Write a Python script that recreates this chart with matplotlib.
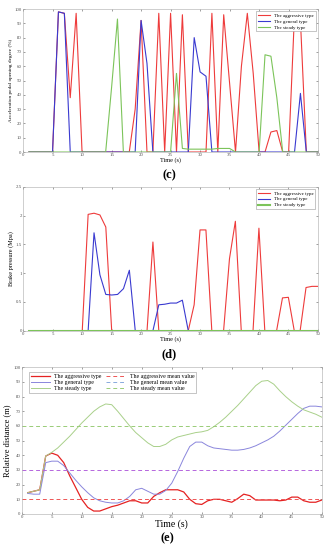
import numpy as np
import matplotlib
matplotlib.use('Agg')
import matplotlib.pyplot as plt

plt.rcParams['font.family'] = ['Liberation Serif', 'DejaVu Serif']

t = np.arange(1, 51)

# (c) accelerator pedal opening degree (%)
acc_aggr = [0, 0, 0, 0, 0, 98, 97, 38, 97, 0,
            0, 0, 0, 0, 0, 0, 0, 0, 30, 92,
            0, 0, 97, 0, 97, 0, 96, 0, 0, 0,
            0, 97, 0, 96, 48, 0, 60, 97, 55, 0,
            0, 14, 15, 0, 0, 97, 92, 0, 0, 0]
acc_gen = [0, 0, 0, 0, 0, 98, 97, 0, 0, 0,
           0, 0, 0, 0, 0, 0, 0, 0, 0, 92,
           62, 0, 0, 0, 0, 0, 0, 0, 80, 56,
           53, 0, 0, 0, 0, 0, 0, 0, 0, 0,
           0, 0, 0, 0, 0, 0, 41, 0, 0, 0]
acc_steady = [0, 0, 0, 0, 0, 0, 0, 0, 0, 0,
              0, 0, 0, 0, 45, 93, 0, 0, 0, 0,
              0, 0, 0, 0, 0, 55, 2.5, 2, 2, 2,
              2, 2, 2.5, 2.5, 2.5, 0, 0, 0, 0, 0,
              68, 67, 38, 0, 0, 0, 0, 0, 0, 0]

# (d) brake pressure (MPa)
brk_aggr = [0, 0, 0, 0, 0, 0, 0, 0, 0, 0,
            2.02, 2.04, 2.01, 1.8, 0, 0, 0, 0, 0, 0,
            0, 1.54, 0, 0, 0, 0, 0, 0, 0.45, 1.75,
            1.75, 0, 0, 0, 1.25, 1.9, 0, 0, 0, 1.78,
            0, 0, 0, 0.57, 0.58, 0, 0, 0.75, 0.77, 0.77]
brk_gen = [0, 0, 0, 0, 0, 0, 0, 0, 0, 0,
           0, 1.7, 0.97, 0.63, 0.62, 0.63, 0.73, 1.05, 0, 0,
           0, 0, 0.45, 0.46, 0.48, 0.48, 0.53, 0, 0, 0,
           0, 0, 0, 0, 0, 0, 0, 0, 0, 0,
           0, 0, 0, 0, 0, 0, 0, 0, 0, 0]
brk_steady = [0] * 50

# (e) relative distance (m)
dist_aggr = [14.5, 15.5, 16.5, 39.5, 41.5, 40, 35, 26, 18, 10,
             4.5, 2, 2, 3.5, 5, 6, 7.5, 9, 9, 7.5,
             7.5, 12, 14.5, 16.5, 16.5, 16.5, 15, 10, 7, 6.5,
             9, 10, 10, 9, 8, 10.5, 13.5, 12.5, 9.5, 9.5,
             9.5, 9.5, 9, 9.5, 11.5, 11.5, 9, 8, 8, 9.5]
dist_gen = [14, 13.5, 13.5, 35, 36, 36, 33, 28, 23, 18.5,
            14.5, 11, 9, 8, 7.5, 7.5, 9, 12, 16.5, 17.5,
            15.5, 13.5, 13.5, 16, 21, 29, 38, 46, 49, 49,
            46.5, 45, 44.5, 44, 43.5, 43.5, 44, 45, 46.5, 48.5,
            50.5, 53, 56.5, 60.5, 64.5, 68.5, 72, 73.5, 73.5, 73]
dist_steady = [14.5, 15.5, 16.5, 39.5, 42, 45, 49, 53, 57.5, 62,
               66, 70, 73, 75, 74.5, 70, 65, 60, 55.5, 52,
               48.5, 46, 46, 47.5, 50.5, 52.5, 53.5, 54.5, 55.5, 56,
               57, 59.5, 62.5, 66, 70, 74, 78.5, 83, 87.5, 90.5,
               91, 88.5, 84, 80, 76.5, 73.5, 71, 69.5, 68, 66]
mean_aggr = 10
mean_gen = 30
mean_steady = 60

fig = plt.figure(figsize=(3.29, 5.5), dpi=100)

tick_fs = 3.5
red, blue, green = '#ee3b3b', '#3a3ad0', '#7cc45a'


def style_ax(ax, ylim, yticks, ylabel, lab_fs=4.5, tfs=tick_fs):
    ax.set_xlim(0, 50)
    ax.set_ylim(*ylim)
    ax.set_xticks(np.arange(0, 51, 5))
    ax.set_yticks(yticks)
    ax.tick_params(labelsize=tfs, length=1.5, width=0.4, pad=1,
                   direction='in', top=True, right=True, colors='#555555')
    for s in ax.spines.values():
        s.set_linewidth(0.4)
        s.set_color('#aaaaaa')
    ax.set_ylabel(ylabel, fontsize=lab_fs, labelpad=1)


# panel c
ax1 = fig.add_axes([0.070, 0.7236, 0.897, 0.26])
ax1.plot(t, acc_aggr, color=red, lw=0.8, label='The aggressive type')
ax1.plot(t, acc_gen, color=blue, lw=0.8, label='The general type')
ax1.plot(t, acc_steady, color=green, lw=0.8, label='The steady type')
style_ax(ax1, (0, 100), np.arange(0, 101, 10),
         'Acceleration pedal opening degree (%)', lab_fs=3.8)
ax1.set_xlabel('Time (s)', fontsize=4.5, labelpad=0)
ax1.legend(loc='upper right', fontsize=3.5, frameon=True, fancybox=False,
           edgecolor='#999999', framealpha=1, handlelength=2.5,
           borderpad=0.4, labelspacing=0.3).get_frame().set_linewidth(0.4)
fig.text(0.515, 0.682, '(c)', ha='center', va='center', fontsize=9,
         fontweight='bold')

# panel d
ax2 = fig.add_axes([0.071, 0.3987, 0.895, 0.2618])
ax2.plot(t, brk_aggr, color=red, lw=0.8, label='The aggressive type')
ax2.plot(t, brk_gen, color=blue, lw=0.8, label='The general type')
ax2.plot(t, brk_steady, color=green, lw=1.5, label='The steady type')
style_ax(ax2, (0, 2.5), [0, 0.5, 1, 1.5, 2, 2.5], 'Brake pressure (Mpa)')
ax2.set_yticklabels(['0', '0.5', '1', '1.5', '2', '2.5'])
ax2.set_xlabel('Time (s)', fontsize=4.5, labelpad=0)
ax2.legend(loc='upper right', fontsize=3.5, frameon=True, fancybox=False,
           edgecolor='#999999', framealpha=1, handlelength=2.5,
           borderpad=0.4, labelspacing=0.3).get_frame().set_linewidth(0.4)
fig.text(0.515, 0.355, '(d)', ha='center', va='center', fontsize=9,
         fontweight='bold')

# panel e
ax3 = fig.add_axes([0.066, 0.0655, 0.912, 0.2667])
ax3.plot(t, dist_aggr, color='#e52222', lw=0.9, label='The aggressive type')
ax3.plot(t, dist_gen, color='#8a86dc', lw=0.7, label='The general type')
ax3.plot(t, dist_steady, color='#a9d08a', lw=0.7, label='The steady type')
ax3.axhline(mean_aggr, color='#ee5555', lw=0.7, ls=(0, (4, 3)),
            label='The aggressive mean value')
ax3.axhline(mean_gen, color='#b566dd', lw=0.7, ls=(0, (4, 3)))
ax3.plot([], [], color='#88aadd', lw=0.7, ls=(0, (4, 3)),
         label='The general mean value')
ax3.axhline(mean_steady, color='#99cc77', lw=0.7, ls=(0, (4, 3)),
            label='The steady mean value')
style_ax(ax3, (0, 100), np.arange(0, 101, 10), 'Relative distance (m)',
         lab_fs=6)
ax3.set_xlabel('Time (s)', fontsize=7, labelpad=0)
h, l = ax3.get_legend_handles_labels()
order = [0, 1, 2, 3, 4, 5]
ax3.legend([h[i] for i in order], [l[i] for i in order], loc='upper left',
           ncol=2, fontsize=4.2, frameon=True, fancybox=False,
           edgecolor='#999999', framealpha=1, handlelength=3.2,
           borderpad=0.3, labelspacing=0.15, columnspacing=0.8,
           bbox_to_anchor=(0.015, 0.985)).get_frame().set_linewidth(0.4)
fig.text(0.51, 0.022, '(e)', ha='center', va='center', fontsize=9,
         fontweight='bold')

fig.savefig('out.png', dpi=100)
